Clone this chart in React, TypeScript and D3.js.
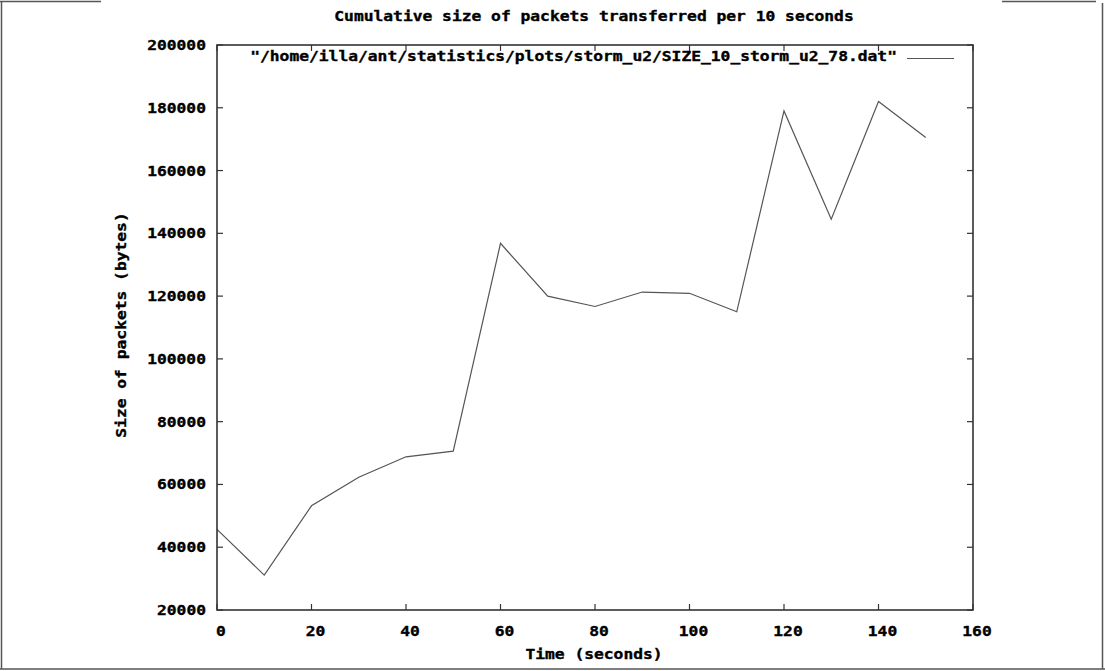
import React from "react";
import * as d3 from "d3";

// Cumulative packet size per 10-second bin
const times = [0, 10, 20, 30, 40, 50, 60, 70, 80, 90, 100, 110, 120, 130, 140, 150];
const sizes = [
  45700, 31100, 53200, 62300, 68800, 70600, 136800, 120000, 116700, 121300,
  120900, 115000, 179000, 144500, 182000, 170500,
];
const xTicks = [0, 20, 40, 60, 80, 100, 120, 140, 160];
const yTicks = [20000, 40000, 60000, 80000, 100000, 120000, 140000, 160000, 180000, 200000];

const titleText = "Cumulative size of packets transferred per 10 seconds";
const xLabelText = "Time (seconds)";
const yLabelText = "Size of packets (bytes)";
const legendText = '"/home/illa/ant/statistics/plots/storm_u2/SIZE_10_storm_u2_78.dat"';

const W = 1105;
const H = 671;
const plot = { left: 217, right: 973, top: 45, bottom: 610 };
const CH = 9.8; // character advance of the bitmap-like font
const FONT = "'DejaVu Sans Mono', 'Liberation Mono', monospace";
const TICK = 6;

const Txt = ({ x, y, s, rotate }: { x: number; y: number; s: string; rotate?: boolean }) => (
  <text
    x={x}
    y={y}
    textLength={s.length * CH}
    lengthAdjust="spacingAndGlyphs"
    fontFamily={FONT}
    fontWeight="bold"
    fontSize={13.5}
    fill="#000"
    stroke="#000"
    strokeWidth={0.35}
    transform={rotate ? `rotate(-90 ${x} ${y})` : undefined}
    style={{ whiteSpace: "pre" }}
  >
    {s}
  </text>
);

export default function App() {
  const x = d3.scaleLinear().domain([0, 160]).range([plot.left, plot.right]);
  const y = d3.scaleLinear().domain([20000, 200000]).range([plot.bottom, plot.top]);

  const line = d3
    .line<number>()
    .x((_, i) => x(times[i]))
    .y((d) => y(d));

  const axisColor = "#333";
  const frameColor = "#555";

  const yLabelLen = yLabelText.length * CH;
  const yLabelCenter = 325;

  return (
    <svg
      width={W}
      height={H}
      style={{ position: "absolute", left: 0, top: 0, background: "#fff" }}
    >
      {/* outer frame */}
      <g stroke={frameColor} strokeWidth={1.5} fill="none">
        <line x1={0} y1={1.5} x2={101} y2={1.5} />
        <line x1={1002} y1={1.5} x2={1096} y2={1.5} />
        <line x1={1.5} y1={1.5} x2={1.5} y2={669} />
        <line x1={1102.5} y1={3} x2={1102.5} y2={669} />
        <line x1={0} y1={669} x2={W} y2={669} />
      </g>

      {/* title */}
      <Txt x={594 - (titleText.length * CH) / 2} y={21} s={titleText} />

      {/* tick marks on all four sides */}
      <g stroke={axisColor} strokeWidth={1.2}>
        {xTicks.map((t) => (
          <g key={"xt" + t}>
            <line x1={x(t)} x2={x(t)} y1={plot.bottom} y2={plot.bottom - TICK} />
            <line x1={x(t)} x2={x(t)} y1={plot.top} y2={plot.top + TICK} />
          </g>
        ))}
        {yTicks.map((t) => (
          <g key={"yt" + t}>
            <line x1={plot.left} x2={plot.left + TICK} y1={y(t)} y2={y(t)} />
            <line x1={plot.right} x2={plot.right - TICK} y1={y(t)} y2={y(t)} />
          </g>
        ))}
      </g>

      {/* tick labels */}
      {xTicks.map((t) => {
        const s = String(t);
        return <Txt key={"xl" + t} x={x(t) + 4 - (s.length * CH) / 2} y={636} s={s} />;
      })}
      {yTicks.map((t) => {
        const s = String(t);
        return <Txt key={"yl" + t} x={206 - s.length * CH} y={y(t) + 5} s={s} />;
      })}

      {/* axis titles */}
      <Txt x={594 - (xLabelText.length * CH) / 2} y={659} s={xLabelText} />
      <Txt x={126} y={yLabelCenter + yLabelLen / 2} s={yLabelText} rotate />

      {/* legend */}
      <Txt x={897 - legendText.length * CH} y={61} s={legendText} />
      <line x1={907} x2={954} y1={58.5} y2={58.5} stroke="#555" strokeWidth={1.2} />

      {/* data */}
      <path d={line(sizes) ?? ""} fill="none" stroke="#555" strokeWidth={1.2} />

      {/* plot border */}
      <rect
        x={plot.left}
        y={plot.top}
        width={plot.right - plot.left}
        height={plot.bottom - plot.top}
        fill="none"
        stroke={axisColor}
        strokeWidth={1.6}
      />
    </svg>
  );
}
